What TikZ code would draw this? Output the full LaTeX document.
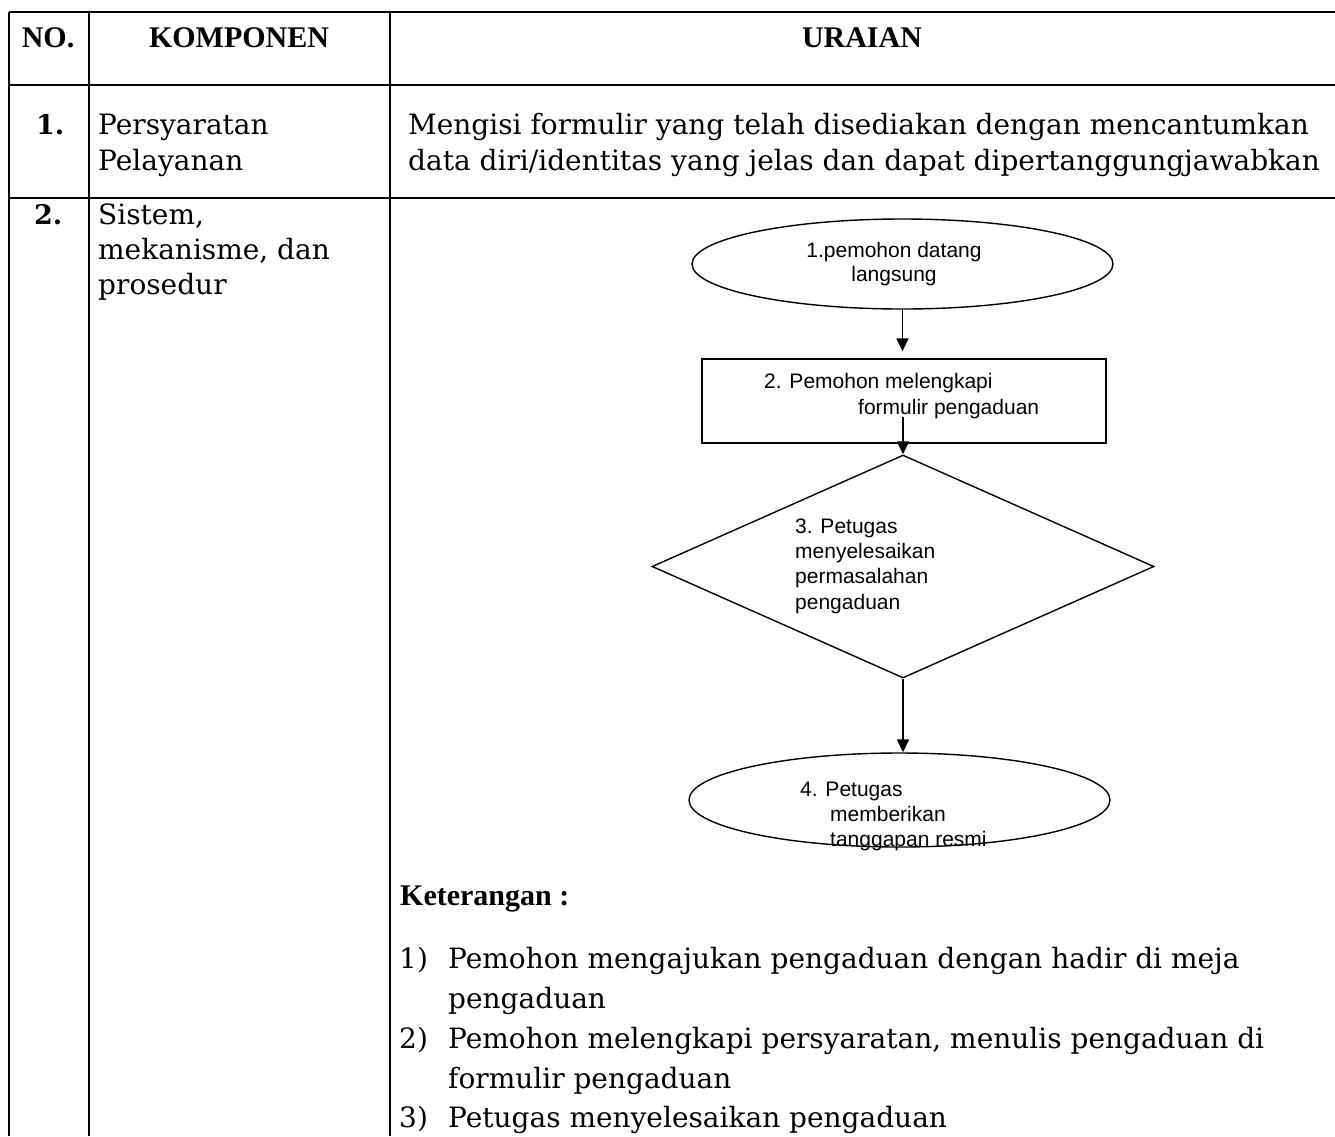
\documentclass[tikz,border=0pt]{standalone}
\usepackage{fontspec}
\setmainfont{DejaVu Serif}
\newfontfamily\headfont{Liberation Serif}
\newfontfamily\chartfont{Liberation Sans}
\usetikzlibrary{shapes.geometric,arrows.meta}

\begin{document}
\begin{tikzpicture}[x=1pt,y=-1pt,
  rule/.style={line width=2.4pt},
  body/.style={font=\fontsize{28}{35}\selectfont, anchor=base west, inner sep=0pt},
  bodynum/.style={font=\bfseries\fontsize{27}{35}\selectfont, anchor=base west, inner sep=0pt},
  head/.style={font=\headfont\bfseries\fontsize{30}{34}\selectfont, anchor=base, inner sep=0pt},
  chart/.style={font=\chartfont\fontsize{21}{25}\selectfont, anchor=base west, inner sep=0pt},
  flow/.style={draw, line width=1.4pt, inner sep=0pt},
  link/.style={line width=1.6pt, -{Triangle[width=12pt,length=13pt]}},
]
\useasboundingbox (0,0) rectangle (1335,1136);
\fill[white] (0,0) rectangle (1335,1136);

% table rules
\draw[rule] (9,12) -- (1335,12);
\draw[rule] (9,85) -- (1335,85);
\draw[rule] (9,198) -- (1335,198);
\draw[rule] (9,12) -- (9,1136);
\draw[rule] (89,12) -- (89,1136);
\draw[rule] (390,12) -- (390,1136);

% header row
\node[head] (hno)  at (48,47)  {NO.};
\node[head] (hkom) at (239,47) {KOMPONEN};
\node[head] (hura) at (862,47) {URAIAN};

% row 1
\node[bodynum] (n1) at (36,134) {1.};
\node[body] (k1a) at (98,134) {Persyaratan};
\node[body] (k1b) at (98,170) {Pelayanan};
\node[body] (u1a) at (408,134) {Mengisi formulir yang telah disediakan dengan mencantumkan};
\node[body] (u1b) at (408,170) {data diri/identitas yang jelas dan dapat dipertanggungjawabkan};

% row 2
\node[bodynum] (n2) at (34,224) {2.};
\node[body] (k2a) at (98,224) {Sistem,};
\node[body] (k2b) at (98,259) {mekanisme, dan};
\node[body] (k2c) at (98,294) {prosedur};

% flowchart shapes
\node[flow, ellipse, minimum width=421pt, minimum height=90pt] (s1) at (902.5,264) {};
\node[flow, rectangle, minimum width=404pt, minimum height=84pt] (s2) at (904,401) {};
\node[flow, diamond, minimum width=502pt, minimum height=223pt] (s3) at (903,566.5) {};
\node[flow, ellipse, minimum width=421pt, minimum height=94pt] (s4) at (899.5,800) {};

% flowchart labels
\node[chart, anchor=base] (t1a) at (894,257) {1.pemohon datang};
\node[chart, anchor=base] (t1b) at (894,281) {langsung};
\node[chart] (t2a) at (764,388) {2. Pemohon melengkapi};
\node[chart] (t2b) at (858,414) {formulir pengaduan};
\node[chart] (t3a) at (795,533) {3. Petugas};
\node[chart] (t3b) at (795,558) {menyelesaikan};
\node[chart] (t3c) at (795,583) {permasalahan};
\node[chart] (t3d) at (795,609) {pengaduan};
\node[chart] (t4a) at (800,796) {4. Petugas};
\node[chart] (t4b) at (830,821) {memberikan};
\node[chart] (t4c) at (830,846) {tanggapan resmi};

% connectors (vertical, on the axis x = 903)
\coordinate (a2) at (903,417);
\draw[link] (s1.south) -- ([yshift=7pt]s1.south |- s2.north);
\draw[link] (a2) -- (s3.north);
\draw[link] (s3.south) -- (s3.south |- s4.north);

% notes under the chart
\node[head, anchor=base west] (ket) at (400,905) {Keterangan :};
\node[body] (m1) at (399,968) {1)};
\node[body] (l1a) at (448,968) {Pemohon mengajukan pengaduan dengan hadir di meja};
\node[body] (l1b) at (448,1008) {pengaduan};
\node[body] (m2) at (399,1048) {2)};
\node[body] (l2a) at (448,1048) {Pemohon melengkapi persyaratan, menulis pengaduan di};
\node[body] (l2b) at (448,1088) {formulir pengaduan};
\node[body] (m3) at (399,1127) {3)};
\node[body] (l3a) at (448,1127) {Petugas menyelesaikan pengaduan};
\end{tikzpicture}
\end{document}
